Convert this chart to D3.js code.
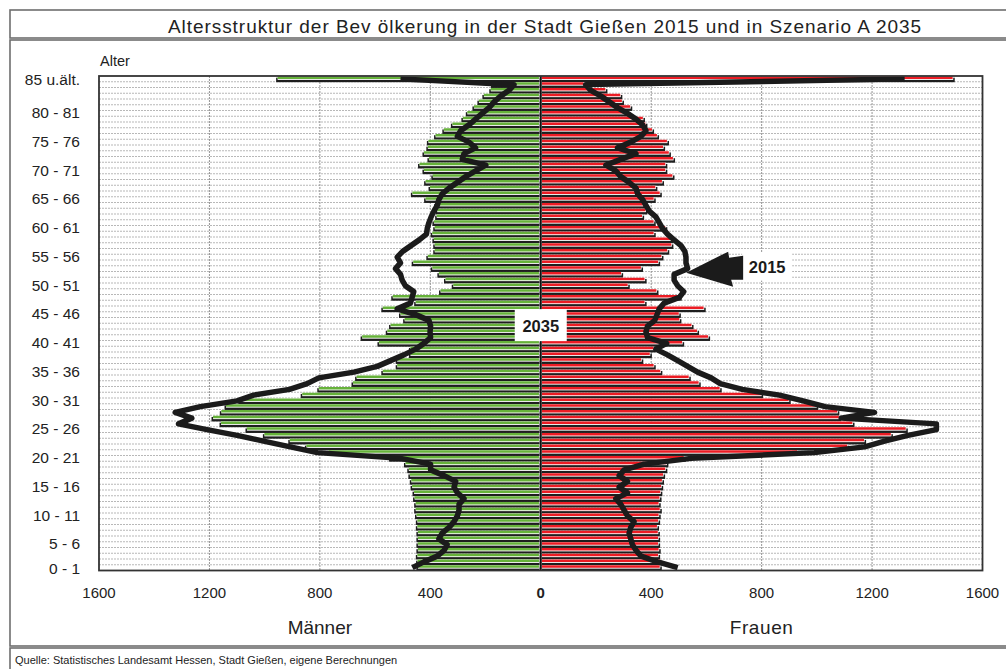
<!DOCTYPE html>
<html lang="de">
<head>
  <meta charset="UTF-8">
  <title>Altersstruktur Gießen</title>
  <script src="https://cdn.jsdelivr.net/npm/d3@7/dist/d3.min.js"></script>
  <style>
    body { margin: 0; background: #fff; }
    svg { display: block; font-family: "Liberation Sans", Arial, sans-serif; }
  </style>
</head>
<body>
  <div id="chart"></div>

  <script>
    // Index 0 = "0 - 1" ... 84 = "84 - 85", 85 = "85 u.ält."
    const ages = d3.range(86);

    const tickAges = [0, 5, 10, 15, 20, 25, 30, 35, 40, 45, 50, 55, 60, 65, 70, 75, 80, 85];
    const tickLabels = ["0 - 1", "5 - 6", "10 - 11", "15 - 16", "20 - 21", "25 - 26", "30 - 31",
      "35 - 36", "40 - 41", "45 - 46", "50 - 51", "55 - 56", "60 - 61", "65 - 66", "70 - 71",
      "75 - 76", "80 - 81", "85 u.ält."];

    const xTicks = [-1600, -1200, -800, -400, 0, 400, 800, 1200, 1600];

    // Szenario A 2035 (Balken)
    const maenner2035 = [445, 446, 447, 445, 445, 445, 445, 447, 447, 450,
      453, 453, 457, 459, 466, 469, 474, 478, 490, 544,
      768, 849, 909, 1001, 1064, 1158, 1187, 1157, 1140, 1090,
      864, 804, 680, 667, 572, 520, 520, 472, 472, 586,
      647, 556, 544, 493, 508, 572, 453, 536, 363, 317,
      345, 369, 393, 462, 409, 384, 384, 387, 393, 384,
      387, 377, 375, 381, 417, 465, 401, 417, 391, 423,
      439, 405, 423, 409, 407, 381, 351, 320, 282, 266,
      242, 224, 206, 181, 175, 953];

    const frauen2035 = [433, 435, 427, 429, 427, 427, 426, 423, 427, 429,
      433, 429, 432, 435, 438, 441, 445, 453, 457, 520,
      931, 1112, 1173, 1270, 1324, 1131, 1082, 1076, 1000, 900,
      800, 650, 574, 538, 435, 411, 366, 397, 411, 514,
      608, 568, 548, 504, 502, 592, 378, 505, 421, 317,
      378, 293, 365, 427, 439, 460, 475, 475, 411, 453,
      411, 369, 381, 372, 411, 433, 417, 441, 479, 453,
      453, 481, 466, 445, 459, 423, 405, 381, 372, 320,
      326, 296, 290, 236, 157, 1494];

    // Bestand 2015 (Linie)
    const maenner2015 = [465, 423, 375, 350, 339, 369, 357, 332, 314, 302,
      296, 296, 278, 302, 314, 308, 350, 399, 399, 508,
      809, 907, 1004, 1100, 1209, 1312, 1264, 1324, 1233, 1100,
      1040, 910, 846, 804, 677, 592, 544, 496, 453, 423,
      399, 401, 399, 405, 453, 520, 472, 466, 460, 490,
      502, 508, 526, 508, 520, 500, 470, 440, 414, 411,
      405, 397, 387, 375, 369, 357, 332, 302, 272, 236,
      199, 284, 278, 236, 260, 302, 290, 260, 236, 212,
      187, 169, 145, 115, 97, 508];

    const frauen2015 = [496, 423, 363, 345, 332, 326, 320, 326, 338, 314,
      302, 290, 272, 314, 284, 314, 284, 302, 375, 544,
      991, 1173, 1245, 1330, 1433, 1433, 1088, 1209, 1030, 950,
      865, 730, 650, 617, 568, 532, 496, 459, 417, 456,
      387, 381, 387, 413, 421, 429, 447, 502, 518, 496,
      483, 483, 532, 526, 526, 522, 508, 483, 459, 441,
      429, 417, 393, 381, 369, 351, 345, 320, 290, 272,
      236, 290, 345, 278, 326, 363, 381, 369, 345, 314,
      278, 248, 218, 181, 163, 1318];

    const width = 1006;
    const height = 669;
    const plot = { left: 99, right: 982.5, top: 76, bottom: 570.5 };

    const svg = d3.select("#chart")
      .append("svg")
      .attr("width", width)
      .attr("height", height);

    // Rahmen: Titel, Diagramm, Quelle
    const frame = svg.append("g")
      .attr("fill", "#fff")
      .attr("stroke", "#6e6e6e")
      .attr("stroke-width", 1.6);
    frame.append("rect").attr("x", 10).attr("y", 10).attr("width", 1010).attr("height", 28);
    frame.append("rect").attr("x", 10).attr("y", 40).attr("width", 1010).attr("height", 606);
    frame.append("rect").attr("x", 10).attr("y", 648).attr("width", 1010).attr("height", 40);

    svg.append("text")
      .attr("x", 545)
      .attr("y", 33)
      .attr("text-anchor", "middle")
      .attr("font-size", 19)
      .attr("letter-spacing", 0.95)
      .attr("fill", "#222")
      .text("Altersstruktur der Bev ölkerung in der Stadt Gießen 2015 und in Szenario A 2035");

    const x = d3.scaleLinear()
      .domain([-1600, 1600])
      .range([plot.left, plot.right]);

    const y = d3.scaleBand()
      .domain(ages.slice().reverse())
      .range([plot.top, plot.bottom]);

    const step = y.step();

    // Gitternetz
    const grid = svg.append("g");
    grid.selectAll("line.h")
      .data(d3.range(1, ages.length))
      .join("line")
      .attr("class", "h")
      .attr("x1", plot.left)
      .attr("x2", plot.right)
      .attr("y1", k => plot.top + k * step)
      .attr("y2", k => plot.top + k * step)
      .attr("stroke", "#9a9a9a")
      .attr("stroke-width", 0.7)
      .attr("stroke-dasharray", "2,1");

    grid.selectAll("line.v")
      .data(xTicks.filter(t => t !== 0 && Math.abs(t) !== 1600))
      .join("line")
      .attr("class", "v")
      .attr("x1", d => x(d))
      .attr("x2", d => x(d))
      .attr("y1", plot.top)
      .attr("y2", plot.bottom)
      .attr("stroke", "#8a8a8a")
      .attr("stroke-width", 0.9)
      .attr("stroke-dasharray", "2,1");

    // Balken mit Schatten: grün/rot, darunter weiße Kante und dunkler Schatten
    function drawBars(values, sign, color) {
      const g = svg.append("g");
      const top = i => y(i) + 0.5;
      const fillH = 2.5;
      const len = d => Math.max(0, Math.abs(x(d) - x(0)) - 1.2);
      const start = d => sign < 0 ? x(0) - 1.2 - len(d) : x(0) + 1.2;

      g.selectAll("rect.shadow")
        .data(values)
        .join("rect")
        .attr("class", "shadow")
        .attr("x", d => sign < 0 ? start(d) - 1.5 : start(d))
        .attr("y", (d, i) => top(i) + 1.2)
        .attr("width", d => len(d) + 1.5)
        .attr("height", 4.5)
        .attr("fill", "#1e1e1e");

      g.selectAll("rect.edge")
        .data(values)
        .join("rect")
        .attr("class", "edge")
        .attr("x", d => start(d))
        .attr("y", (d, i) => top(i))
        .attr("width", d => len(d))
        .attr("height", fillH + 0.9)
        .attr("fill", "#fff");

      g.selectAll("rect.bar")
        .data(values)
        .join("rect")
        .attr("class", "bar")
        .attr("x", d => start(d))
        .attr("y", (d, i) => top(i))
        .attr("width", d => Math.max(0, len(d) - 0.6))
        .attr("height", fillH)
        .attr("fill", color);
    }

    drawBars(maenner2035, -1, "#66b23a");
    drawBars(frauen2035, 1, "#ec1c24");

    // Nulllinie
    svg.append("line")
      .attr("x1", x(0)).attr("x2", x(0))
      .attr("y1", plot.top).attr("y2", plot.bottom)
      .attr("stroke", "#111")
      .attr("stroke-width", 2);

    // Linien 2015
    const line = d3.line()
      .x(d => x(d.v))
      .y(d => y(d.i) + step / 2);

    svg.append("path")
      .datum(maenner2015.map((v, i) => ({ i: i, v: -v })))
      .attr("d", line)
      .attr("fill", "none")
      .attr("stroke", "#1b1b1b")
      .attr("stroke-width", 5.5)
      .attr("stroke-linejoin", "round");

    svg.append("path")
      .datum(frauen2015.map((v, i) => ({ i: i, v: v })))
      .attr("d", line)
      .attr("fill", "none")
      .attr("stroke", "#1b1b1b")
      .attr("stroke-width", 5.5)
      .attr("stroke-linejoin", "round");

    // Plotrahmen
    svg.append("rect")
      .attr("x", plot.left)
      .attr("y", plot.top)
      .attr("width", plot.right - plot.left)
      .attr("height", plot.bottom - plot.top)
      .attr("fill", "none")
      .attr("stroke", "#333")
      .attr("stroke-width", 1.8);

    // Y-Achse
    svg.append("g")
      .selectAll("text")
      .data(tickAges)
      .join("text")
      .attr("x", 80)
      .attr("y", (d, i) => y(d) + step / 2 + (d === 0 || d === 85 ? 1 : 5))
      .attr("dy", "0.35em")
      .attr("text-anchor", "end")
      .attr("font-size", 15.5)
      .attr("fill", "#222")
      .text((d, i) => tickLabels[i]);

    svg.append("text")
      .attr("x", 100)
      .attr("y", 66)
      .attr("font-size", 14.5)
      .attr("fill", "#222")
      .text("Alter");

    // X-Achse
    svg.append("g")
      .selectAll("text")
      .data(xTicks)
      .join("text")
      .attr("x", d => x(d))
      .attr("y", 598)
      .attr("text-anchor", "middle")
      .attr("font-size", 15)
      .attr("font-weight", d => d === 0 ? "bold" : "normal")
      .attr("fill", "#222")
      .text(d => Math.abs(d));

    svg.append("text")
      .attr("x", x(-800))
      .attr("y", 634)
      .attr("text-anchor", "middle")
      .attr("font-size", 19)
      .attr("fill", "#222")
      .text("Männer");

    svg.append("text")
      .attr("x", x(800))
      .attr("y", 634)
      .attr("text-anchor", "middle")
      .attr("font-size", 19)
      .attr("letter-spacing", 0.6)
      .attr("fill", "#222")
      .text("Frauen");

    // Beschriftung 2035
    const c35 = { x: x(0), y: y(42) + step / 2 };
    svg.append("rect")
      .attr("x", c35.x - 26).attr("y", c35.y - 17)
      .attr("width", 52).attr("height", 32)
      .attr("fill", "#fff");
    svg.append("text")
      .attr("x", c35.x).attr("y", c35.y + 6)
      .attr("text-anchor", "middle")
      .attr("font-size", 16.5)
      .attr("font-weight", "bold")
      .attr("fill", "#1a1a1a")
      .text("2035");

    // Beschriftung 2015 mit Pfeil
    const c15 = { x: x(820), y: y(52) + step / 2 - 2 };
    svg.append("rect")
      .attr("x", c15.x - 25).attr("y", c15.y - 14)
      .attr("width", 50).attr("height", 28)
      .attr("fill", "#fff");
    svg.append("polygon")
      .attr("points", [
        [c15.x - 81, c15.y + 6],
        [c15.x - 39, c15.y - 15],
        [c15.x - 38, c15.y - 9],
        [c15.x - 24, c15.y - 11],
        [c15.x - 24, c15.y + 13],
        [c15.x - 36, c15.y + 13],
        [c15.x - 34, c15.y + 20]
      ].map(p => p.join(",")).join(" "))
      .attr("fill", "#1b1b1b");
    svg.append("text")
      .attr("x", c15.x).attr("y", c15.y + 6)
      .attr("text-anchor", "middle")
      .attr("font-size", 16.5)
      .attr("font-weight", "bold")
      .attr("fill", "#1a1a1a")
      .text("2015");

    // Quelle
    svg.append("text")
      .attr("x", 15)
      .attr("y", 664)
      .attr("font-size", 11)
      .attr("fill", "#222")
      .text("Quelle: Statistisches Landesamt Hessen, Stadt Gießen, eigene Berechnungen");
  </script>
</body>
</html>
